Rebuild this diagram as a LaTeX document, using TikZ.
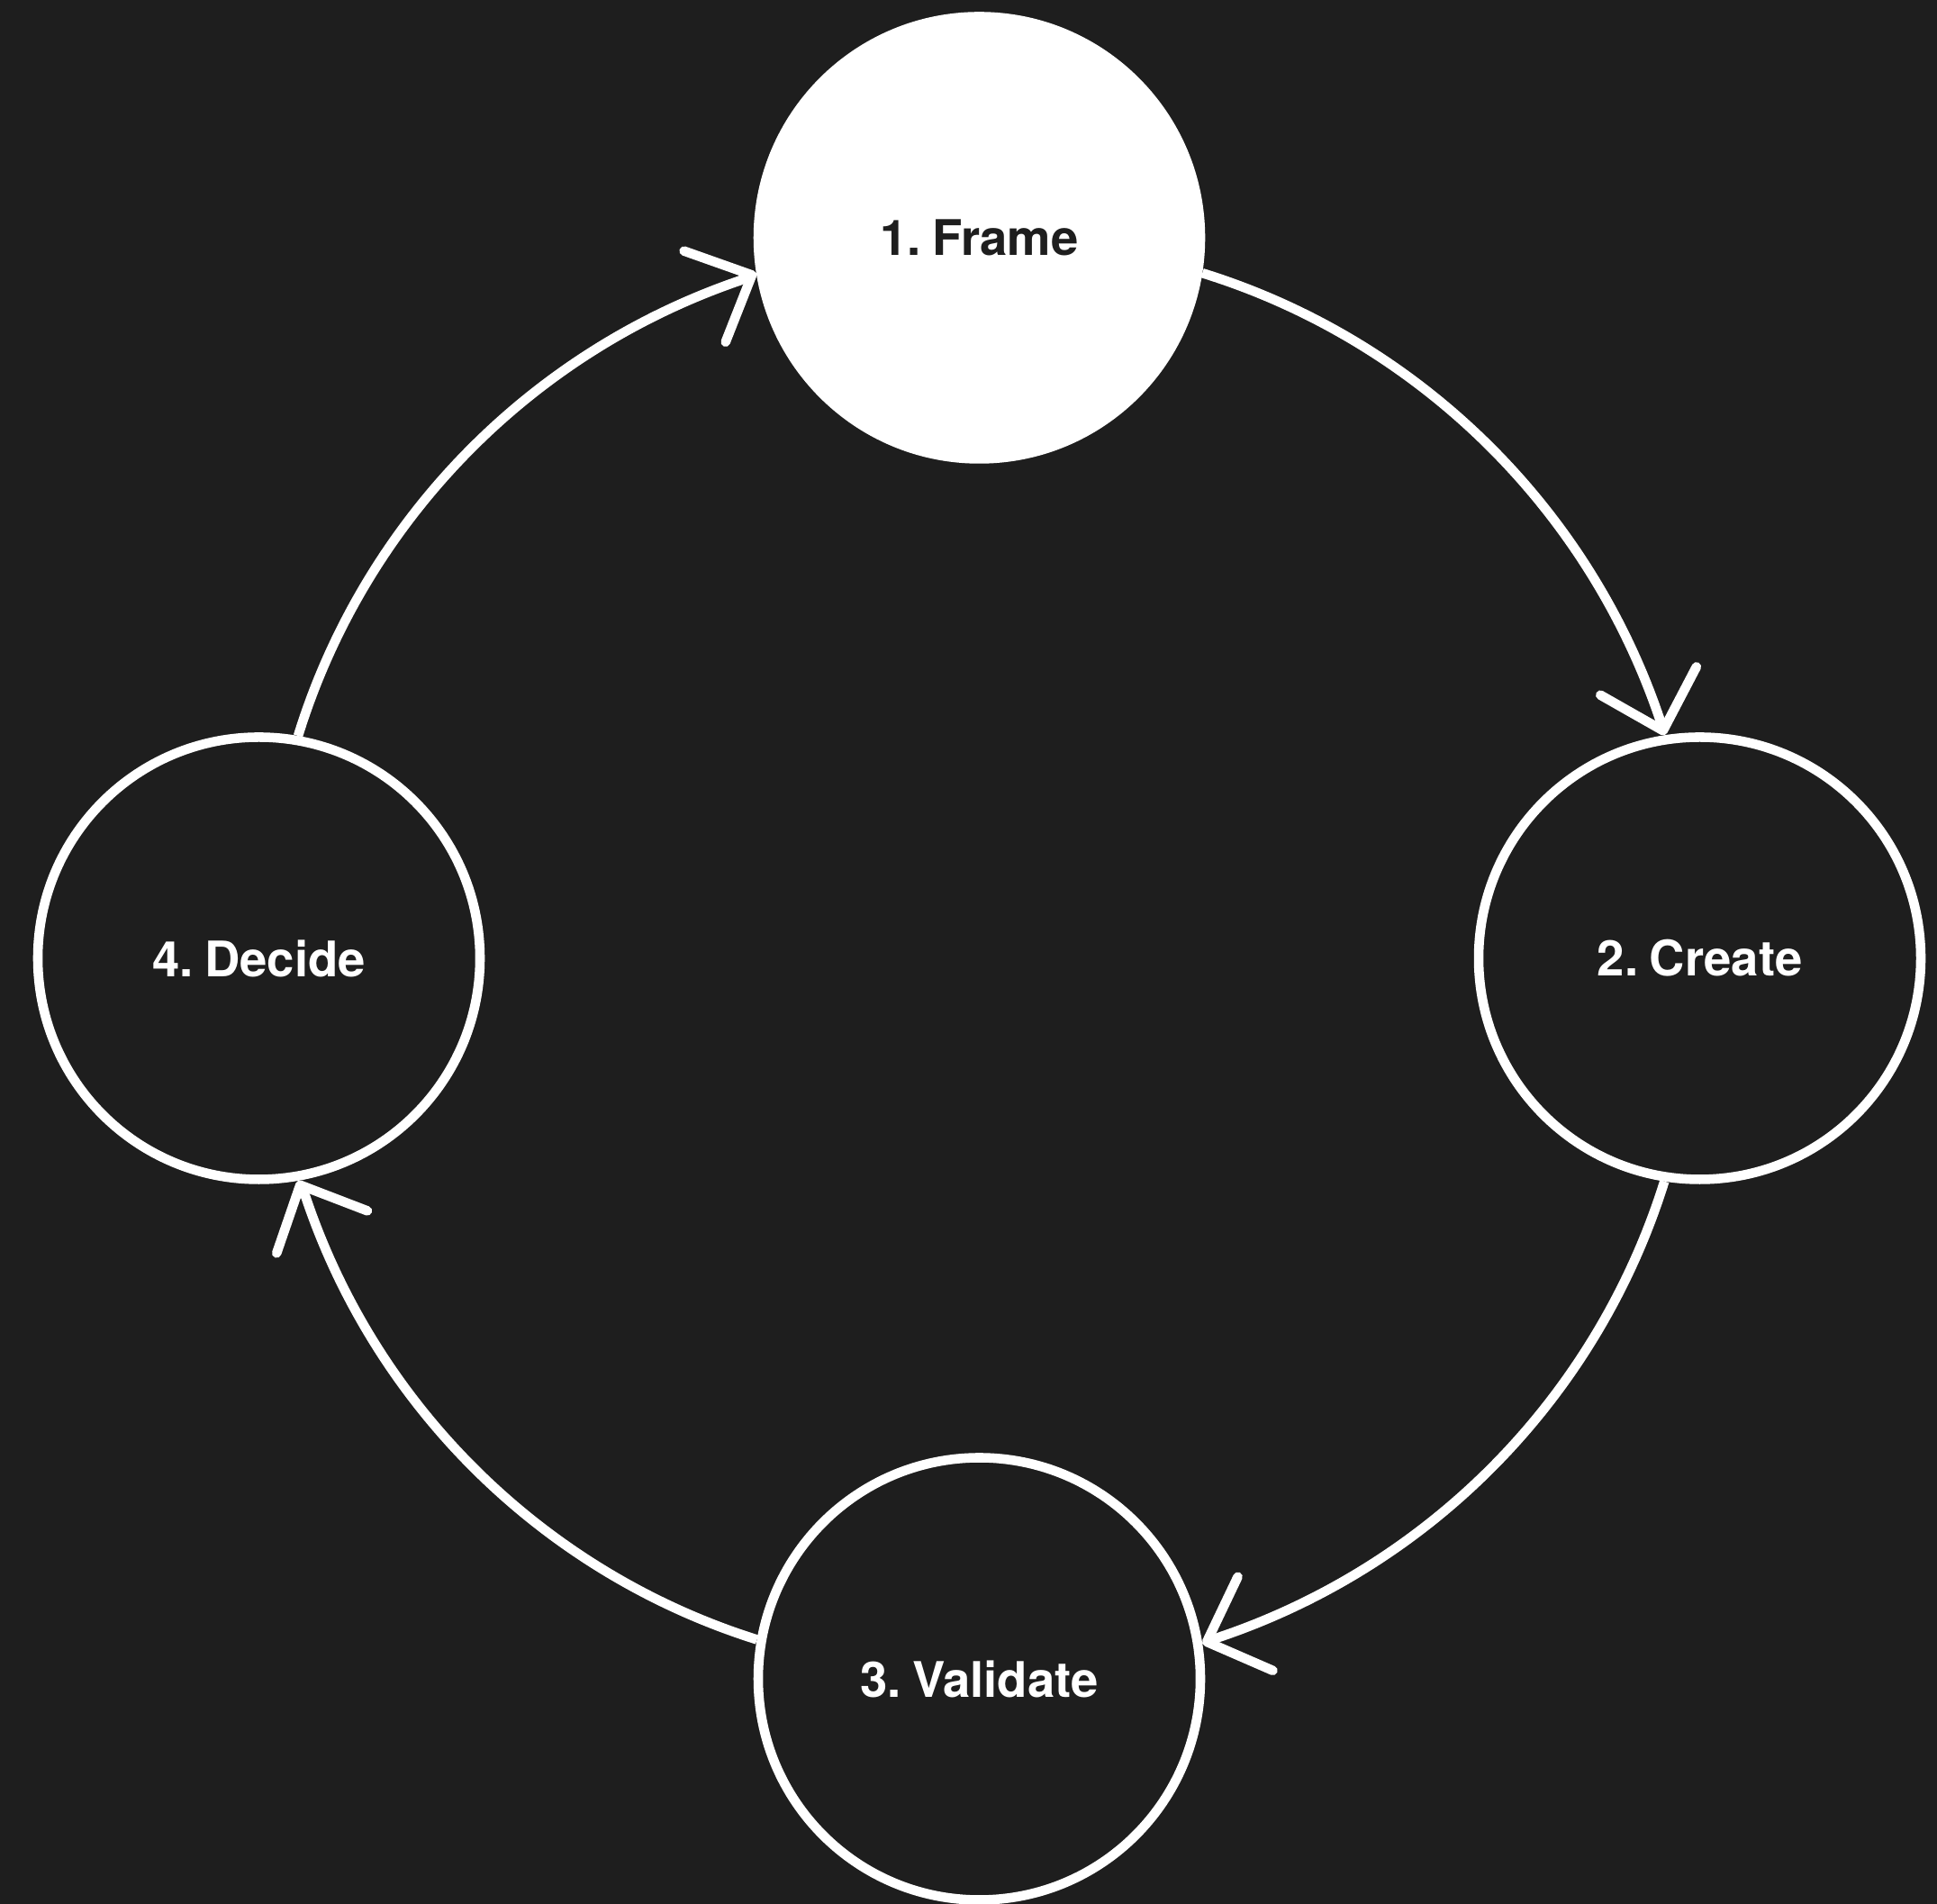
\documentclass[tikz,border=0pt]{standalone}
\usepackage{fontspec}
\setmainfont[WordSpace=0.5]{TeX Gyre Heros}
\usetikzlibrary{arrows.meta, positioning}
\definecolor{bgdark}{RGB}{30,30,30}

\begin{document}
\begin{tikzpicture}[font=\bfseries\fontsize{15.5}{18}\selectfont,
    stage/.style={circle, draw=white, line width=3pt, minimum size=4.91cm,
                  inner sep=0pt, text=white},
    flow/.style={white, line width=3pt, line join=round,
                 -{Straight Barb[angle=88:8mm, round]}}]

% ---- Canvas -------------------------------------------------------------
\fill[bgdark] (0,0) rectangle (21.51,21.14);
\useasboundingbox (0,0) rectangle (21.51,21.14);

% ---- Stages ---------------------------------------------------------------
\node[stage, fill=white, text=bgdark] (frame)    at (10.875,18.50) {1. Frame};
\node[stage]                          (create)   at (18.875,10.50) {2. Create};
\node[stage]                          (validate) at (10.875,2.50)  {3. Validate};
\node[stage]                          (decide)   at (2.875,10.50)  {4. Decide};

% ---- Cycle (arc, then a short lead-in so the tip sits as drawn) -----------
\draw[flow] (frame.-9.03) to[bend left=27, looseness=0.9]
            ([shift={(106.4:2mm)}]create.99.03) -- (create.99.03);
\draw[flow] (create.-99.03) to[bend left=27, looseness=0.9]
            ([shift={(20.5:2mm)}]validate.9.03) -- (validate.9.03);
\draw[flow] (validate.170.97) to[bend left=27, looseness=0.9]
            ([shift={(-65:2mm)}]decide.-80.97) -- (decide.-80.97);
\draw[flow] (decide.80.97) to[bend left=27, looseness=0.9]
            ([shift={(204.5:2mm)}]frame.189.03) -- (frame.189.03);

\end{tikzpicture}
\end{document}
